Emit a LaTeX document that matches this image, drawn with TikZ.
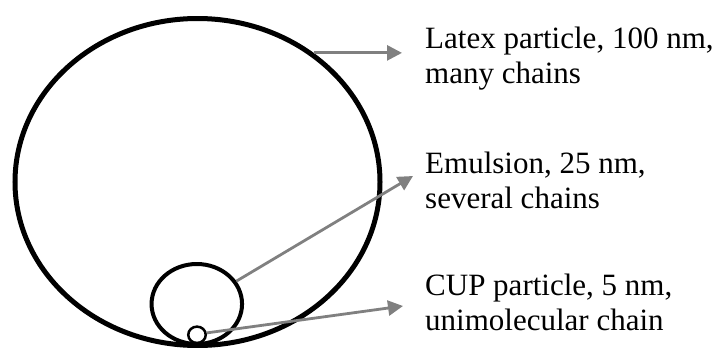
\documentclass[tikz,border=0pt]{standalone}
\usepackage{fontspec}
\setmainfont{Liberation Serif}
\usetikzlibrary{shapes.geometric,arrows.meta}
\definecolor{arrgray}{RGB}{128,128,128}
\tikzset{
  particle/.style={ellipse,draw=black,inner sep=0pt,fill=none},
  pointer/.style={draw=arrgray,line width=2.8pt,-{Triangle[length=15pt,width=15pt]}},
  label/.style={anchor=base west,align=left,inner sep=0pt,font=\fontsize{31}{35.5}\selectfont}
}
\begin{document}
\begin{tikzpicture}[x=1pt,y=-1pt]
\useasboundingbox (0,0) rectangle (723,348);
\node[particle,line width=5pt,minimum width=365pt,minimum height=327pt] (big) at (197.5,182) {};
\node[particle,line width=4pt,minimum width=90.5pt,minimum height=80pt] (mid) at (196.8,304) {};
\node[particle,line width=2.5pt,minimum width=17.5pt,minimum height=16.4pt] (small) at (197,334.8) {};
\coordinate (t1) at (402,53);
\coordinate (t2) at (413,176);
\coordinate (t3) at (403,306);
\draw[pointer] (big.48) -- (big.48 -| t1);
\draw[pointer] (mid.30) -- (t2);
\draw[pointer] (small.11) -- (t3);
\node[label] (lab1) at (425,83.5) {Latex particle, 100 nm,\\many chains};
\node[label] (lab2) at (425,208.5) {Emulsion, 25 nm,\\several chains};
\node[label] (lab3) at (425,330.5) {CUP particle, 5 nm,\\unimolecular chain};
\end{tikzpicture}
\end{document}
